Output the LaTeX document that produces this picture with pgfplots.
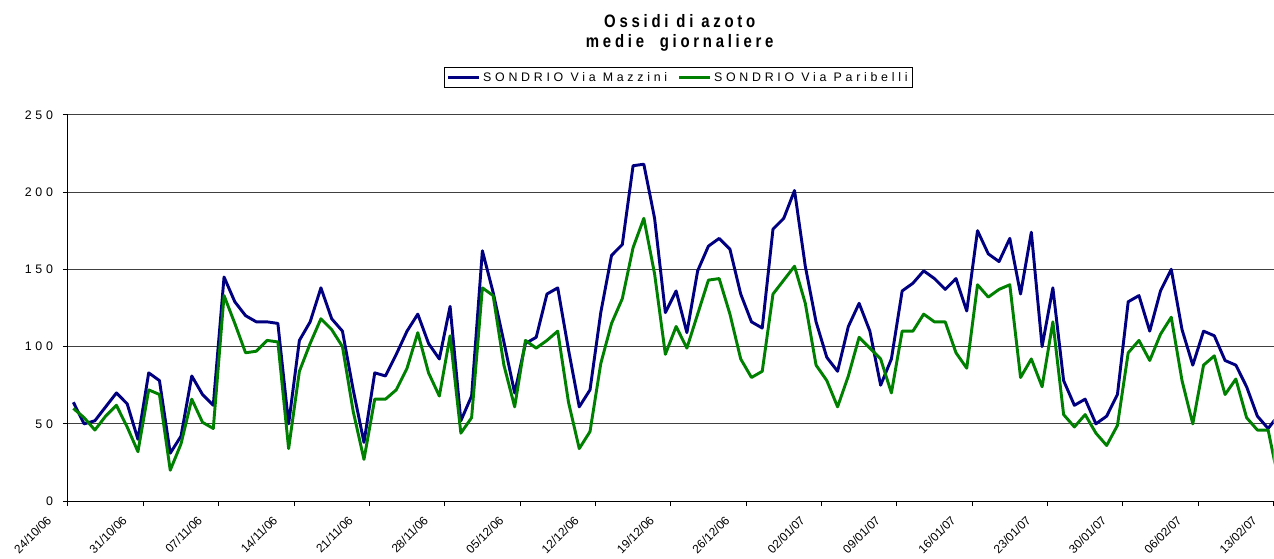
\documentclass[border=0pt]{standalone}
\usepackage{fontspec}
\setmainfont{Liberation Sans}
\newfontfamily\spaced[LetterSpace=30]{Liberation Sans}
\newfontfamily\titlefont[LetterSpace=25]{Liberation Sans}
\usepackage{pgfplots}
\pgfplotsset{compat=1.18}
\usepackage{pgfplotstable}

\definecolor{mazzini}{RGB}{0,0,128}
\definecolor{paribelli}{RGB}{0,128,0}

% day index (0 = 24/10/06), daily means
\pgfplotstableread{
d mazzini paribelli
0 64 60
1 50 54
2 52 46
3 61 55
4 70 62
5 63 48
6 40 32
7 83 72
8 78 69
9 31 20
10 42 37
11 81 66
12 69 51
13 62 47
14 145 133
15 129 115
16 120 96
17 116 97
18 116 104
19 115 103
20 50 34
21 104 84
22 116 102
23 138 118
24 118 111
25 110 100
26 72 58
27 38 27
28 83 66
29 81 66
30 95 72
31 110 86
32 121 109
33 102 83
34 92 68
35 126 107
36 52 44
37 68 54
38 162 138
39 135 133
40 103 88
41 70 61
42 102 104
43 106 99
44 134 104
45 138 110
46 98 64
47 61 34
48 72 45
49 122 89
50 159 115
51 166 131
52 217 164
53 218 183
54 183 147
55 122 95
56 136 113
57 109 99
58 149 121
59 165 143
60 170 144
61 163 121
62 134 92
63 116 80
64 112 84
65 176 134
66 183 143
67 201 152
68 152 128
69 116 88
70 93 78
71 84 61
72 113 81
73 128 106
74 110 99
75 75 92
76 92 70
77 136 110
78 141 110
79 149 121
80 144 116
81 137 116
82 144 96
83 123 86
84 175 140
85 160 132
86 155 137
87 170 140
88 134 80
89 174 92
90 100 74
91 138 116
92 78 56
93 62 48
94 66 56
95 50 44
96 55 36
97 69 49
98 129 96
99 133 104
100 110 91
101 136 108
102 150 119
103 111 78
104 88 50
105 110 88
106 107 94
107 91 69
108 88 79
109 74 54
110 55 46
111 47 46
112 56 12
}\nox

\begin{document}
\begin{tikzpicture}
\begin{axis}[
    at={(0pt,0pt)}, anchor=south west,
    scale only axis,
    width=904.5pt, height=289.9pt,
    xmin=0, xmax=112, ymin=0, ymax=250,
    axis x line=bottom, axis y line=left,
    axis line style={-, black, line width=0.75pt},
    tick align=outside,
    major tick length=3.75pt,
    tick style={black, line width=0.75pt},
    xtick={0,7,...,112},
    xticklabels={24/10/06,31/10/06,07/11/06,14/11/06,21/11/06,28/11/06,05/12/06,12/12/06,19/12/06,26/12/06,02/01/07,09/01/07,16/01/07,23/01/07,30/01/07,06/02/07,13/02/07},
    xticklabel style={font=\fontsize{9}{10}\selectfont, xshift=-14pt, yshift=-9pt, rotate=45, anchor=east, inner sep=0pt},
    ytick={0,50,...,250},
    yticklabels={0,50,100,150,200,250},
    yticklabel style={font=\spaced\fontsize{9.3}{10}\selectfont, xshift=-4pt},
    ymajorgrids,
    major grid style={black!75, line width=0.6pt},
    legend columns=2,
    legend style={at={(0.5065,1.096)}, anchor=center, draw=black, line width=0.6pt,
        font=\spaced\fontsize{9.3}{10}\selectfont, inner xsep=2pt, inner ysep=1.5pt,
        /tikz/every even column/.append style={column sep=6pt}},
    legend image code/.code={\draw[#1, line width=2.2pt] (0pt,0pt) -- (23pt,0pt);},
]
\addplot[mazzini, line width=2.2pt, line join=round] table[x expr=\thisrow{d}+0.5, y=mazzini] {\nox};
\addlegendentry{SONDRIO Via  Mazzini}
\addplot[paribelli, line width=2.2pt, line join=round] table[x expr=\thisrow{d}+0.5, y=paribelli] {\nox};
\addlegendentry{SONDRIO Via Paribelli}
\end{axis}
\node[font=\titlefont\bfseries\fontsize{13.5}{15}\selectfont, xscale=0.83, transform shape] at (459pt,360pt) {Ossidi di azoto};
\node[font=\titlefont\bfseries\fontsize{13.5}{15}\selectfont, xscale=0.83, transform shape] at (459pt,343.5pt) {medie \ giornaliere};
\path[use as bounding box] (-51pt,-43.3pt) rectangle (904.5pt,376pt);
\end{tikzpicture}
\end{document}
